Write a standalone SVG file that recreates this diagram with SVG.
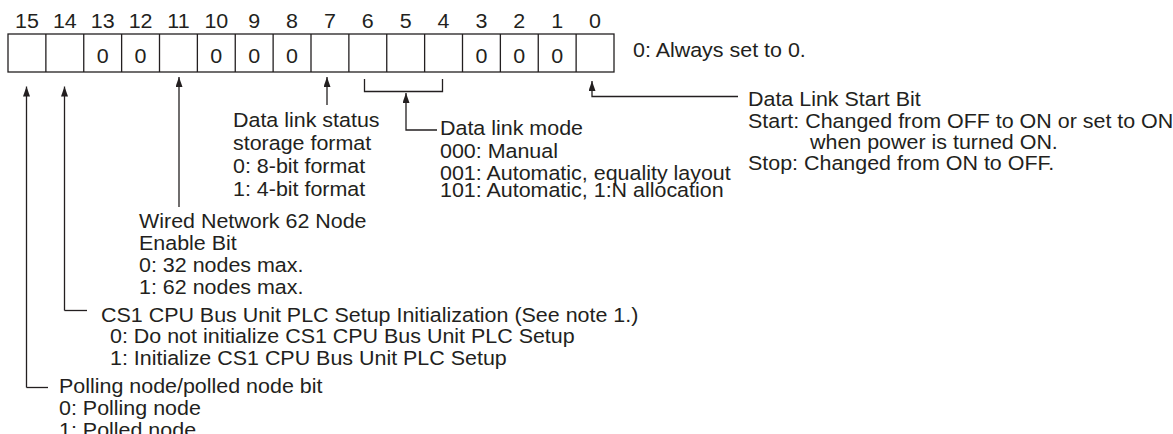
<svg xmlns="http://www.w3.org/2000/svg" width="1173" height="434" viewBox="0 0 1173 434">
<style>
text{font-family:"Liberation Sans",Arial,sans-serif;font-size:19.5px;fill:#231f20}
.m{text-anchor:middle}
.ln{fill:none;stroke:#231f20;stroke-width:1.3}
</style>
<defs>
<marker id="ah" markerUnits="userSpaceOnUse" markerWidth="10" markerHeight="7" refX="10" refY="3.5" orient="auto">
<path d="M0,0 L10,3.5 L0,7 z" fill="#231f20"/>
</marker>
</defs>
<rect x="0" y="0" width="1173" height="434" fill="#fff"/>
<g id="register">
<rect class="ln" x="8" y="34" width="606" height="38"/>
<path class="ln" d="M45.875,34V72M83.75,34V72M121.625,34V72M159.5,34V72M197.375,34V72M235.25,34V72M273.125,34V72M311,34V72M348.875,34V72M386.75,34V72M424.625,34V72M462.5,34V72M500.375,34V72M538.25,34V72M576.125,34V72"/>
<g class="m">
<text transform="translate(26.94,28) scale(1.1,1)">15</text>
<text transform="translate(64.81,28) scale(1.1,1)">14</text>
<text transform="translate(102.69,28) scale(1.1,1)">13</text>
<text transform="translate(140.56,28) scale(1.1,1)">12</text>
<text transform="translate(178.44,28) scale(1.1,1)">11</text>
<text transform="translate(216.31,28) scale(1.1,1)">10</text>
<text transform="translate(254.19,28) scale(1.1,1)">9</text>
<text transform="translate(292.06,28) scale(1.1,1)">8</text>
<text transform="translate(329.94,28) scale(1.1,1)">7</text>
<text transform="translate(367.81,28) scale(1.1,1)">6</text>
<text transform="translate(405.69,28) scale(1.1,1)">5</text>
<text transform="translate(443.56,28) scale(1.1,1)">4</text>
<text transform="translate(481.44,28) scale(1.1,1)">3</text>
<text transform="translate(519.31,28) scale(1.1,1)">2</text>
<text transform="translate(557.19,28) scale(1.1,1)">1</text>
<text transform="translate(595.06,28) scale(1.1,1)">0</text>
<text transform="translate(102.69,63) scale(1.1,1)">0</text>
<text transform="translate(140.56,63) scale(1.1,1)">0</text>
<text transform="translate(216.31,63) scale(1.1,1)">0</text>
<text transform="translate(254.19,63) scale(1.1,1)">0</text>
<text transform="translate(292.06,63) scale(1.1,1)">0</text>
<text transform="translate(481.44,63) scale(1.1,1)">0</text>
<text transform="translate(519.31,63) scale(1.1,1)">0</text>
<text transform="translate(557.19,63) scale(1.1,1)">0</text>
</g>
</g>
<g id="note-always">
<text transform="translate(633,57) scale(1.1,1)">0: Always set to 0.</text>
</g>
<g id="connectors">
<path class="ln" d="M26.5,387.5V86.5" marker-end="url(#ah)"/>
<path class="ln" d="M26.5,387.5H48"/>
<path class="ln" d="M64.5,310.5V86.5" marker-end="url(#ah)"/>
<path class="ln" d="M64.5,310.5H87"/>
<path class="ln" d="M179,207V77" marker-end="url(#ah)"/>
<path class="ln" d="M327,105V77" marker-end="url(#ah)"/>
<path class="ln" d="M364.5,79V91.5H442.5V79"/>
<path class="ln" d="M437,130H406V93" marker-end="url(#ah)"/>
<path class="ln" d="M738,96.5H592V81" marker-end="url(#ah)"/>
</g>
<g id="bit15">
<text transform="translate(59,393) scale(1.1,1)">Polling node/polled node bit</text>
<text transform="translate(59,415) scale(1.1,1)">0: Polling node</text>
<text transform="translate(59,436.5) scale(1.1,1)">1: Polled node</text>
</g>
<g id="bit14">
<text transform="translate(101,321.5) scale(1.1,1)">CS1 CPU Bus Unit PLC Setup Initialization (See note 1.)</text>
<text transform="translate(110,343) scale(1.1,1)">0: Do not initialize CS1 CPU Bus Unit PLC Setup</text>
<text transform="translate(110,365) scale(1.1,1)">1: Initialize CS1 CPU Bus Unit PLC Setup</text>
</g>
<g id="bit11">
<text transform="translate(139,228) scale(1.1,1)">Wired Network 62 Node</text>
<text transform="translate(139,250) scale(1.1,1)">Enable Bit</text>
<text transform="translate(139,272) scale(1.1,1)">0: 32 nodes max.</text>
<text transform="translate(139,293.5) scale(1.1,1)">1: 62 nodes max.</text>
</g>
<g id="bit7">
<text transform="translate(233,127) scale(1.1,1)">Data link status</text>
<text transform="translate(233,150) scale(1.1,1)">storage format</text>
<text transform="translate(233,173) scale(1.1,1)">0: 8-bit format</text>
<text transform="translate(233,196) scale(1.1,1)">1: 4-bit format</text>
</g>
<g id="bits6-4">
<text transform="translate(440,135) scale(1.1,1)">Data link mode</text>
<text transform="translate(440,158) scale(1.1,1)">000: Manual</text>
<text transform="translate(440,180) scale(1.1,1)">001: Automatic, equality layout</text>
<text transform="translate(440,197) scale(1.1,1)">101: Automatic, 1:N allocation</text>
</g>
<g id="bit0">
<text transform="translate(748,106) scale(1.1,1)">Data Link Start Bit</text>
<text transform="translate(748,128) scale(1.1,1)">Start: Changed from OFF to ON or set to ON</text>
<text transform="translate(810,149) scale(1.1,1)">when power is turned ON.</text>
<text transform="translate(748,170) scale(1.1,1)">Stop: Changed from ON to OFF.</text>
</g>
</svg>
